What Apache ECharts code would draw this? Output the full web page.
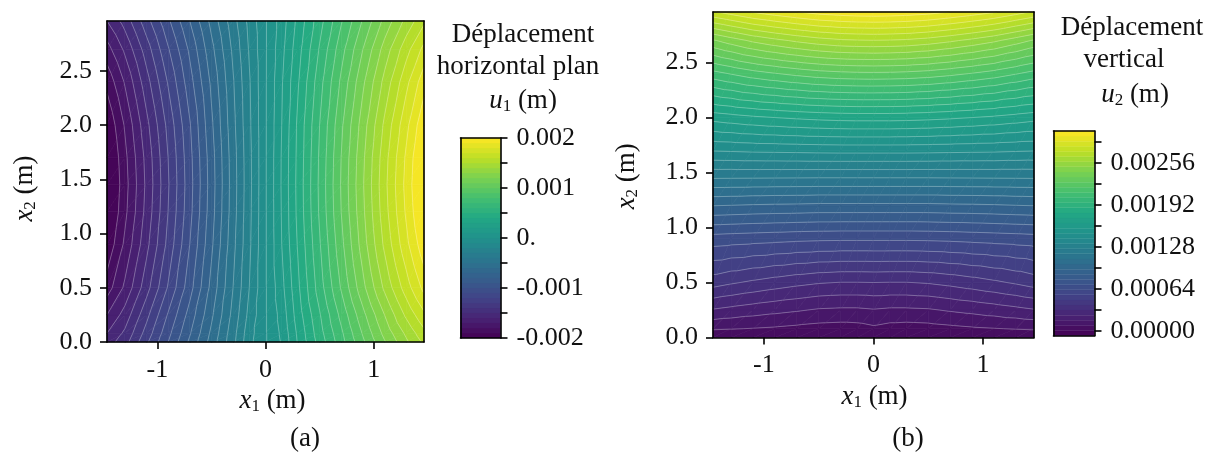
<!DOCTYPE html>
<html><head><meta charset="utf-8">
<style>html,body{margin:0;padding:0;background:#fff}#c{width:1217px;height:453px}</style>
<script src="https://cdn.jsdelivr.net/npm/echarts@6/dist/echarts.min.js"></script>
</head><body><div id="c"></div>
<script>
// Values. Field values are in units of 1e-5 m, rows run from x2 = 0 upward.
const x1Nodes = [-1.465,-1.3,-1.1,-0.9,-0.7,-0.5,-0.3,-0.15,0,0.15,0.3,0.5,0.7,0.9,1.1,1.3,1.465];
const x2Nodes = [0,0.08,0.25,0.5,0.9,1.2,1.45,1.7,2.0,2.4,2.7,2.96];
const u1Rows = [
 [-155,-144,-122,-100,-78,-56,-33,-13,-1,11,31,54,76,98,119,138,152],
 [-160,-148,-126,-103,-81,-58,-34,-14,-1,12,32,56,78,101,123,142,157],
 [-170,-156,-133,-109,-86,-62,-37,-17,-1,14,35,59,83,107,130,152,168],
 [-185,-168,-144,-119,-94,-67,-40,-20,-1,17,38,65,91,117,142,165,183],
 [-198,-178,-153,-127,-100,-72,-43,-22,-1,20,41,69,97,125,152,177,197],
 [-203.2,-182.6,-156.7,-129.9,-103.1,-74.3,-44.6,-22.6,-1,20.6,42.6,71.4,100.1,127.9,155.7,181.4,203],
 [-205,-184,-158,-131,-104,-75,-45,-23,-1,21,43,72,101,129,157,183,205],
 [-203.4,-182.7,-156.8,-130,-103.2,-74.4,-44.6,-22.8,-1,20.8,42.6,71.4,100.2,128,155.8,181.6,203.4],
 [-199,-179,-153,-127,-101,-72,-43,-22,-1,20,42,70,98,125,152,177,198],
 [-187,-169,-144,-119,-94,-68,-41,-21,-1,19,39,66,92,118,143,167,186],
 [-174,-158,-135,-111,-88,-63,-38,-19,-1,17,36,61,86,110,134,156,173],
 [-160,-146,-124,-102,-80,-57,-34,-17,-1,15,33,56,79,101,123,143,158]
];
const u2Rows = [
 [1,1,1,1,1,1,1,1,1,1,1,1,1,1,1,1,1],
 [9,8.4,7.7,7,6,5,4.5,5,6.5,5,4.5,5,6,7,7.7,8.4,9],
 [23,21.4,19.6,18,16.6,15,14.5,14.5,15.3,14.5,14.5,15,16.6,18,19.6,21.4,23],
 [42.6,40.2,37.8,35.6,33.6,32,31.2,31.2,31.4,31.2,31.2,32,33.6,35.6,37.8,40.2,42.6],
 [67,66.4,65.8,65.2,64.6,64.2,64,64,64,64,64,64.2,64.6,65.2,65.8,66.4,67],
 [94,93.6,93,92.6,92.4,92,92,92,92,92,92,92,92.4,92.6,93,93.6,94],
 [117.5,117.4,117.3,117.2,117.1,117,117,117,117,117,117,117,117.1,117.2,117.3,117.4,117.5],
 [141,141.4,142,142.2,142.5,142.8,143,143,143,143,143,142.8,142.5,142.2,142,141.4,141],
 [167,168.6,170.4,171.8,173,174,174.7,175,175,175,174.7,174,173,171.8,170.4,168.6,167],
 [208,211.4,215.3,218.2,220.8,223,224.3,224.8,225,224.8,224.3,223,220.8,218.2,215.3,211.4,208],
 [241,245.8,251.3,255.4,259,262,264,264.7,265,264.7,264,262,259,255.4,251.3,245.8,241],
 [280,284.4,289.5,293.2,296.5,299.4,301,301.8,302,301.8,301,299.4,296.5,293.2,289.5,284.4,280]
];
const xTicks = [-1,0,1];
const yTicks = [0,0.5,1,1.5,2,2.5];
const cbarATicks = [-0.002,-0.0015,-0.001,-0.0005,0,0.0005,0.001,0.0015,0.002];
const cbarALabelValues = [-0.002,-0.001,0,0.001,0.002];
const cbarALabels = ['-0.002','-0.001','0.','0.001','0.002'];
const cbarBTicks = [0,0.00032,0.00064,0.00096,0.00128,0.0016,0.00192,0.00224,0.00256,0.00288];
const cbarBLabelValues = [0,0.00064,0.00128,0.00192,0.00256];
const cbarBLabels = ['0.00000','0.00064','0.00128','0.00192','0.00256'];
const viridis = ['#440154','#482475','#414487','#355f8d','#2a788e','#21918c','#22a884','#44bf70','#7ad151','#bddf26','#fde725'];

const UNIT = 1e-5, FONT = '"Liberation Serif", serif';
const X_MIN = -1.465, X_MAX = 1.465, Y_MAX = 2.96;

function makeLevels(lo, hi, n){ const a=[]; for(let k=0;k<=n;k++) a.push(lo+(hi-lo)*k/n); return a; }
const levelsA = makeLevels(-0.002,0.002,40);
const levelsB = makeLevels(-0.000076,0.003044,40);

function hex(h){ return [1,3,5].map(i=>parseInt(h.substr(i,2),16)); }
function cmap(t){
  t=Math.max(0,Math.min(1,t))*(viridis.length-1);
  const i=Math.min(viridis.length-2,Math.floor(t)), f=t-i, a=hex(viridis[i]), b=hex(viridis[i+1]);
  return 'rgb('+a.map((v,k)=>Math.round(v+(b[k]-v)*f)).join(',')+')';
}
function clip(poly, lv, above){
  const out=[];
  for(let i=0;i<poly.length;i++){
    const p=poly[i], q=poly[(i+1)%poly.length];
    const pin=above?p[2]>=lv:p[2]<=lv, qin=above?q[2]>=lv:q[2]<=lv;
    if(pin) out.push(p);
    if(pin!==qin){ const f=(lv-p[2])/(q[2]-p[2]); out.push([p[0]+(q[0]-p[0])*f,p[1]+(q[1]-p[1])*f,lv]); }
  }
  return out;
}
function cellTriangles(rows,i,j){
  const P=(a,b)=>[x1Nodes[a],x2Nodes[b],rows[b][a]*UNIT];
  const a=P(i,j),b=P(i+1,j),c=P(i+1,j+1),d=P(i,j+1);
  return [[a,b,c],[a,c,d]];
}
function fieldSeries(g, rows, levels){
  const n=levels.length-1, nx=x1Nodes.length-1;
  const data=[];
  for(let j=0;j<x2Nodes.length-1;j++) for(let i=0;i<nx;i++) data.push([x1Nodes[i],x2Nodes[j],rows[j][i]*UNIT,i,j]);
  const fill={type:'custom',xAxisIndex:2*g,yAxisIndex:2*g,data,silent:true,animation:false,z:2,
    renderItem(params,api){
      const i=api.value(3), j=api.value(4), kids=[];
      cellTriangles(rows,i,j).forEach(tri=>{
        for(let k=0;k<n;k++){
          let p=tri;
          if(k>0) p=clip(p,levels[k],true);
          if(p.length&&k<n-1) p=clip(p,levels[k+1],false);
          if(p.length<3) continue;
          const col=cmap((k+0.5)/n);
          kids.push({type:'polygon',shape:{points:p.map(q=>api.coord([q[0],q[1]]))},style:{fill:col,stroke:col,lineWidth:0.7}});
        }
      });
      return {type:'group',children:kids};
    }};
  const lines={type:'custom',xAxisIndex:2*g,yAxisIndex:2*g,data,silent:true,animation:false,z:3,
    renderItem(params,api){
      const i=api.value(3), j=api.value(4), kids=[];
      cellTriangles(rows,i,j).forEach(tri=>{
        for(let k=1;k<n;k++){
          const lv=levels[k], pts=[];
          for(let e=0;e<3;e++){
            const p=tri[e],q=tri[(e+1)%3];
            if((p[2]<lv)!==(q[2]<lv)){ const f=(lv-p[2])/(q[2]-p[2]); pts.push([p[0]+(q[0]-p[0])*f,p[1]+(q[1]-p[1])*f]); }
          }
          if(pts.length===2){
            const A=api.coord(pts[0]),B=api.coord(pts[1]);
            kids.push({type:'line',shape:{x1:A[0],y1:A[1],x2:B[0],y2:B[1]},style:{stroke:'rgba(255,255,255,0.36)',lineWidth:0.8}});
          }
        }
      });
      return {type:'group',children:kids};
    }};
  return [fill,lines];
}
function cbarSeries(g, levels){
  const n=levels.length-1, data=[];
  for(let k=0;k<n;k++) data.push([0,levels[k],levels[k+1]]);
  return {type:'custom',xAxisIndex:2*g,yAxisIndex:2*g,data,silent:true,animation:false,z:2,
    encode:{x:0,y:[1,2]},
    renderItem(params,api){
      const a=api.coord([0,api.value(1)]), b=api.coord([1,api.value(2)]);
      const col=cmap((params.dataIndex+0.5)/n);
      return {type:'rect',shape:{x:a[0],y:b[1],width:b[0]-a[0],height:a[1]-b[1]},style:{fill:col,stroke:col,lineWidth:0.4}};
    }};
}
const black={color:'#000',width:1.6};
const rich={
  i:{fontFamily:FONT,fontStyle:'italic',fontSize:27,color:'#111'},
  s:{fontFamily:FONT,fontSize:17,color:'#111',padding:[11,0,0,0]},
  n:{fontFamily:FONT,fontSize:27,color:'#111'}
};
function frame(g,xMin,xMax,yMin,yMax,opt){
  const lineOnly={show:true,onZero:false,lineStyle:black};
  const x=[
    {type:'value',gridIndex:g,min:xMin,max:xMax,position:'bottom',z:10,splitLine:{show:false},axisLine:lineOnly,
     axisTick:opt.xTicks?{show:true,customValues:opt.xTicks,length:7,lineStyle:black}:{show:false},
     axisLabel:opt.xTicks?{show:true,customValues:opt.xTicks,margin:15,fontFamily:FONT,fontSize:26,color:'#111',formatter:v=>String(v)}:{show:false},
     name:opt.xName||'',nameLocation:'middle',nameGap:opt.xGap||0,nameTextStyle:{rich,padding:opt.xPad||0}},
    {type:'value',gridIndex:g,min:xMin,max:xMax,position:'top',z:10,splitLine:{show:false},axisLine:lineOnly,axisTick:{show:false},axisLabel:{show:false}}
  ];
  const y=[
    {type:'value',gridIndex:g,min:yMin,max:yMax,position:opt.yPos,z:10,splitLine:{show:false},axisLine:lineOnly,
     axisTick:{show:true,customValues:opt.yTicks,length:7,lineStyle:black},
     axisLabel:{show:true,customValues:opt.yLabelValues,margin:opt.yMargin,fontFamily:FONT,fontSize:26,color:'#111',formatter:opt.yFmt},
     name:opt.yName||'',nameLocation:'middle',nameGap:opt.yGap||0,nameTextStyle:{rich,padding:opt.yPad||0}},
    {type:'value',gridIndex:g,min:yMin,max:yMax,position:opt.yPos==='left'?'right':'left',z:10,splitLine:{show:false},axisLine:lineOnly,axisTick:{show:false},axisLabel:{show:false}}
  ];
  return {x,y};
}
const lookup=(vals,labs)=>v=>{const i=vals.findIndex(q=>Math.abs(q-v)<1e-7);return i<0?'':labs[i];};
const xName='{i|x}{s|1}{n| (m)}', yName='{i|x}{s|2}{n| (m)}';
const frames=[
  frame(0,X_MIN,X_MAX,0,Y_MAX,{xTicks,yTicks,yLabelValues:yTicks,yPos:'left',yMargin:15,yFmt:v=>v.toFixed(1),xName,xGap:40,xPad:[0,0,0,14],yName,yGap:68,yPad:[0,14,0,0]}),
  frame(1,X_MIN,X_MAX,0,Y_MAX,{xTicks,yTicks,yLabelValues:yTicks,yPos:'left',yMargin:15,yFmt:v=>v.toFixed(1),xName,xGap:44,xPad:[0,0,0,2],yName,yGap:72,yPad:[0,3,0,0]}),
  frame(2,0,1,-0.002,0.002,{yTicks:cbarATicks,yLabelValues:cbarALabelValues,yPos:'right',yMargin:16,yFmt:lookup(cbarALabelValues,cbarALabels)}),
  frame(3,0,1,-0.000076,0.003044,{yTicks:cbarBTicks,yLabelValues:cbarBLabelValues,yPos:'right',yMargin:16,yFmt:lookup(cbarBLabelValues,cbarBLabels)})
];
function head(text,left,top){
  return {text,left,top,padding:0,textAlign:'center',textVerticalAlign:'middle',
    textStyle:{fontFamily:FONT,fontWeight:'normal',fontSize:27,color:'#111',rich}};
}
const option={
  animation:false,backgroundColor:'#fff',
  title:[
    head('Déplacement',523,35),head('horizontal plan',518,67),head('{i|u}{s|1}{n| (m)}',523,101),
    head('Déplacement',1132,28),head('vertical',1124,60),head('{i|u}{s|2}{n| (m)}',1135,95),
    head('(a)',305,439),head('(b)',908,439)
  ],
  grid:[
    {left:107,top:21,width:317,height:321,outerBoundsMode:'none'},
    {left:713,top:12,width:321,height:325.5,outerBoundsMode:'none'},
    {left:460.5,top:138,width:40,height:200,outerBoundsMode:'none'},
    {left:1053.5,top:131,width:41,height:204.7,outerBoundsMode:'none'}
  ],
  xAxis:frames.flatMap(f=>f.x),
  yAxis:frames.flatMap(f=>f.y),
  series:[...fieldSeries(0,u1Rows,levelsA),...fieldSeries(1,u2Rows,levelsB),cbarSeries(2,levelsA),cbarSeries(3,levelsB)]
};
echarts.init(document.getElementById('c'),null,{renderer:'canvas'}).setOption(option);
</script></body></html>
